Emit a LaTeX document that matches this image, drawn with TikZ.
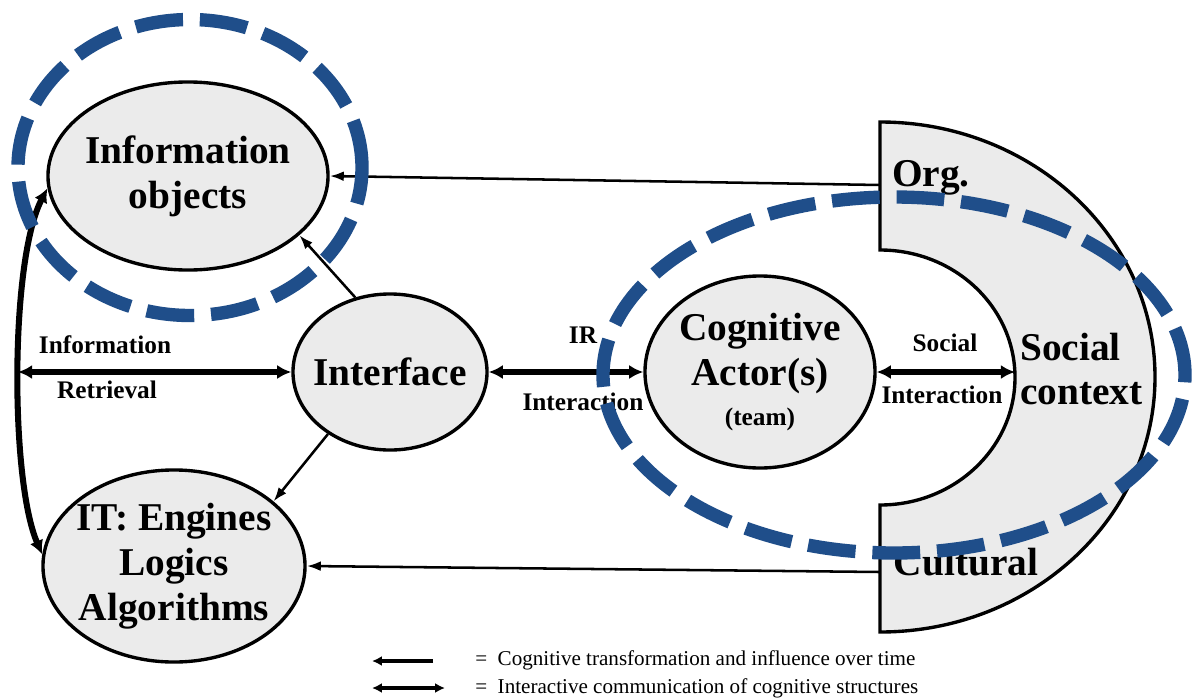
\documentclass[tikz,border=0pt]{standalone}
\usepackage{fontspec}
\setmainfont{Liberation Serif}
\usepackage{tikz}
\usetikzlibrary{shapes.geometric,arrows.meta}
\usetikzlibrary{positioning}

\definecolor{ringblue}{RGB}{31,78,138}
\definecolor{ovalgray}{RGB}{235,235,235}

\begin{document}
\begin{tikzpicture}[x=0.025cm, y=0.025cm,
    % General options for the grey ovals
    oval/.style={ellipse, draw, line width=2.4pt, fill=ovalgray,
      inner sep=-10pt, align=center,
      font=\fontsize{28}{32}\selectfont\bfseries},
    % Styles for the text that stands alone
    lbl/.style={font=\fontsize{18}{20}\selectfont\bfseries, inner sep=0pt},
    big/.style={font=\fontsize{28}{31}\selectfont\bfseries, inner sep=0pt},
    legend/.style={font=\fontsize{15}{17}\selectfont, anchor=west, inner sep=0pt},
    % Arrows
    oneway/.style={line width=1.8pt, -{Latex[length=10pt,width=7pt]}},
    twoway/.style={line width=4.3pt,
      {Latex[length=10pt,width=10pt]}-{Latex[length=10pt,width=10pt]}},
    ring/.style={draw=ringblue, line width=9.5pt, dash pattern=on 34pt off 12pt}]

\fill[white] (0,0) rectangle (1192,-698);
\useasboundingbox (0,0) rectangle (1192,-698);

% Social context
\draw[line width=2.4pt, fill=ovalgray] (880,-122)
  arc[start angle=90, end angle=-90, x radius=275, y radius=255]
  -- (880,-505) arc[start angle=-90, end angle=90, x radius=135, y radius=127.5]
  -- cycle;
\coordinate (orgpt) at (880,-185);
\coordinate (cultpt) at (880,-572);
\coordinate (socin) at (1015,-372);
\coordinate (irleft) at (18,-372);

% Ovals
\node[oval, minimum width=7cm, minimum height=4.7cm] (io) at (188,-176) {Information\\objects};
\node[oval, minimum width=4.85cm, minimum height=3.9cm] (ui) at (390,-372) {Interface};
\node[oval, minimum width=6.55cm, minimum height=4.8cm] (it) at (174,-566) {IT: Engines\\Logics\\Algorithms};
\node[oval, minimum width=5.75cm, minimum height=4.8cm] (ca) at (760,-372)
  {Cognitive\\Actor(s)\\[-4pt]{\fontsize{18}{20}\selectfont (team)}};

% Labels
\node[lbl] (irtop) at (105,-345) {Information};
\node[lbl] (irbot) at (107,-390) {Retrieval};
\node[lbl] (irl) at (583,-335) {IR};
\node[lbl] (iri) at (583,-402) {Interaction};
\node[lbl] (soc) at (945,-343) {Social};
\node[lbl] (soci) at (942,-395) {Interaction};
\node[big] (org) at (931,-178) {Org.};
\node[big, align=left, anchor=west] (sctx) at (1020,-369) {Social\\context};
\node[big] (cult) at (966,-562) {Cultural};

% Connectors
\draw[oneway] (orgpt) -- (io.east);
\draw[oneway] (cultpt) -- (it.east);
\draw[oneway] (ui.115) -- (io.-28);
\draw[oneway] (ui.-135) -- (it.33);
\draw[twoway] (irleft) -- (ui.west);
\draw[twoway] (ui.east) -- (ca.west);
\draw[twoway] (ca.east) -- (socin);
\draw[twoway] (io.185) .. controls (10,-260) and (10,-480) .. (it.175);

% Legend
\coordinate (k1a) at (372,-661);
\coordinate (k1b) at (433,-661);
\coordinate (k2a) at (372,-688);
\coordinate (k2b) at (445,-688);
\draw[line width=2.5pt, -{Latex[length=7pt,width=7pt]}] (k1b) -- (k1a);
\draw[line width=2.5pt, {Latex[length=7pt,width=7pt]}-{Latex[length=7pt,width=7pt]}] (k2a) -- (k2b);
\node[legend] (t1) at (475,-660) {=\ \ Cognitive transformation and influence over time};
\node[legend] (t2) at (475,-688) {=\ \ Interactive communication of cognitive structures};

% Dashed rings
\draw[ring] (190,-167.5) ellipse[x radius=172, y radius=148];
\draw[ring] (894,-375) ellipse[x radius=291, y radius=178];
\end{tikzpicture}
\end{document}
